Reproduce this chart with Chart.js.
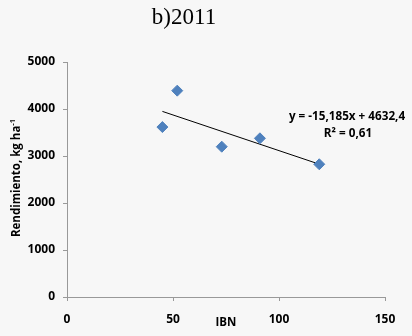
<!DOCTYPE html>
<html>
<head>
<meta charset="utf-8">
<script src="https://cdn.jsdelivr.net/npm/chart.js@4"></script>
<style>
html, body { margin: 0; padding: 0; background: #f7f7f7; }
#wrap { width: 412px; height: 336px; }
</style>
</head>
<body>
<div id="wrap"><canvas id="chart" width="412" height="336"></canvas></div>
<script>
const ibn = [45, 52, 73, 91, 119]
const rendimiento = [3616, 4390, 3198, 3376, 2824]
const trendX = [45, 119]
const trendY = [3949, 2826]
const xTicks = [0, 50, 100, 150]
const yTicks = [0, 1000, 2000, 3000, 4000, 5000]
const equationLines = ['y = -15,185x + 4632,4', 'R² = 0,61']
const titleText = 'b)2011'
const xTitle = 'IBN'
const yTitle = 'Rendimiento, kg ha'
const yTitleSup = '-1'

const tickFont = { family: '"Open Sans"', size: 12, weight: 'bold' }

// titles and trendline equation, drawn on top of the chart
const labelsPlugin = {
    id: 'labels',
    afterDraw(chart) {
        const ctx = chart.ctx
        const area = chart.chartArea
        ctx.save()
        ctx.fillStyle = '#000'
        ctx.textBaseline = 'middle'

        ctx.font = '23px "Liberation Serif"'
        ctx.textAlign = 'center'
        ctx.fillText(titleText, 184, 18)

        ctx.font = 'bold 11.5px "Open Sans"'
        ctx.fillText(xTitle, (area.left + area.right) / 2, 323)

        ctx.font = 'bold 11.7px "Open Sans"'
        ctx.fillText(equationLines[0], 347, 117)
        ctx.fillText(equationLines[1], 348, 134)

        // rotated y title with superscript
        ctx.translate(17, 178)
        ctx.rotate(-Math.PI / 2)
        ctx.font = 'bold 11.5px "Open Sans"'
        let w1 = ctx.measureText(yTitle).width
        ctx.font = 'bold 7.5px "Open Sans"'
        let w2 = ctx.measureText(yTitleSup).width
        let start = -(w1 + w2) / 2
        ctx.textAlign = 'left'
        ctx.font = 'bold 11.5px "Open Sans"'
        ctx.fillText(yTitle, start, 0)
        ctx.font = 'bold 7.5px "Open Sans"'
        ctx.fillText(yTitleSup, start + w1, -4)
        ctx.restore()
    }
}

const data = {
    datasets: [{
        label: 'Rendimiento',
        data: ibn.map((x, i) => ({ x: x, y: rendimiento[i] })),
        pointStyle: 'rectRot',
        pointRadius: 5.5,
        backgroundColor: '#4f81bd',
        borderColor: '#4f81bd',
        borderWidth: 1
    }, {
        label: 'Tendencia',
        data: trendX.map((x, i) => ({ x: x, y: trendY[i] })),
        showLine: true,
        pointRadius: 0,
        borderColor: '#000',
        borderWidth: 1
    }]
}

const config = {
    type: 'scatter',
    data: data,
    options: {
        responsive: false,
        animation: false,
        devicePixelRatio: 1,
        layout: { padding: { top: 62, right: 27, left: 0, bottom: 0 } },
        plugins: {
            legend: { display: false },
            tooltip: { enabled: false }
        },
        scales: {
            x: {
                type: 'linear',
                min: 0,
                max: 150,
                afterBuildTicks: scale => { scale.ticks = xTicks.map(v => ({ value: v })) },
                afterFit: scale => { scale.height = 39 },
                grid: { drawOnChartArea: false, drawTicks: true, tickLength: 4, color: '#999' },
                border: { color: '#999' },
                ticks: { font: tickFont, color: '#000', padding: 11, maxRotation: 0 }
            },
            y: {
                type: 'linear',
                min: 0,
                max: 5000,
                afterBuildTicks: scale => { scale.ticks = yTicks.map(v => ({ value: v })) },
                afterFit: scale => { scale.width = 67 },
                grid: { drawOnChartArea: false, drawTicks: true, tickLength: 4, color: '#999' },
                border: { color: '#999' },
                ticks: { font: tickFont, color: '#000', padding: 8, callback: v => String(v) }
            }
        }
    },
    plugins: [labelsPlugin]
}

let ctx = document.getElementById('chart').getContext('2d')

new Chart(ctx, config)
</script>
</body>
</html>
